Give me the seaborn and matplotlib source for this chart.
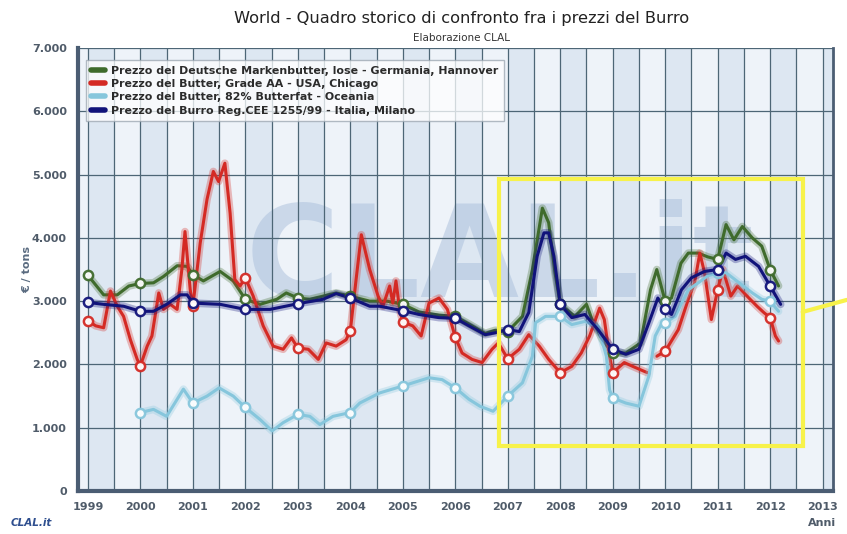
import numpy as np
import pandas as pd
import seaborn as sns
import matplotlib.pyplot as plt
import matplotlib.patheffects as pe
from matplotlib.lines import Line2D
from matplotlib.patches import Rectangle
from matplotlib.ticker import MultipleLocator, FuncFormatter

# Germania, Hannover (Deutsche Markenbutter, lose)
de_years = [1999.0, 1999.3, 1999.56, 1999.78, 2000.0, 2000.25, 2000.44, 2000.7, 2000.89,
            2001.0, 2001.2, 2001.52, 2001.77, 2002.0, 2002.28, 2002.6, 2002.78, 2003.0,
            2003.23, 2003.48, 2003.73, 2004.0, 2004.37, 2004.7, 2005.0, 2005.31, 2005.69,
            2006.0, 2006.26, 2006.57, 2006.76, 2007.0, 2007.28, 2007.47, 2007.66, 2007.78,
            2007.9, 2008.0, 2008.28, 2008.5, 2008.62, 2008.84, 2009.0, 2009.25, 2009.53,
            2009.72, 2009.84, 2010.0, 2010.12, 2010.3, 2010.44, 2010.63, 2010.81, 2011.0,
            2011.16, 2011.31, 2011.47, 2011.66, 2011.84, 2012.0, 2012.16]
de_price = [3410, 3100, 3100, 3240, 3280, 3290, 3390, 3560, 3550,
            3420, 3320, 3470, 3320, 3030, 2950, 3030, 3130, 3050,
            3030, 3080, 3130, 3080, 3000, 3000, 2950, 2830, 2780,
            2760, 2640, 2490, 2540, 2520, 2760, 3500, 4470, 4240,
            3450, 2950, 2760, 2950, 2680, 2340, 2180, 2180, 2340,
            3180, 3500, 3000, 3050, 3600, 3760, 3760, 3700, 3660,
            4210, 3970, 4180, 4000, 3870, 3500, 3240]

# USA, Chicago (Grade AA) - data missing in the last months of 2009
us_years = [1999.0, 1999.15, 1999.3, 1999.43, 1999.56, 1999.68, 1999.81, 1999.94, 2000.0,
            2000.13, 2000.22, 2000.35, 2000.44, 2000.57, 2000.7, 2000.79, 2000.85, 2000.95,
            2001.0, 2001.14, 2001.27, 2001.39, 2001.49, 2001.61, 2001.71, 2001.8, 2001.9,
            2002.0, 2002.15, 2002.34, 2002.53, 2002.72, 2002.88, 2003.0, 2003.2, 2003.39,
            2003.54, 2003.73, 2003.92, 2004.0, 2004.11, 2004.21, 2004.37, 2004.53, 2004.62,
            2004.75, 2004.81, 2004.87, 2004.94, 2005.0, 2005.19, 2005.35, 2005.5, 2005.69,
            2005.85, 2006.0, 2006.13, 2006.32, 2006.51, 2006.7, 2006.82, 2007.0, 2007.22,
            2007.4, 2007.6, 2007.78, 2008.0, 2008.22, 2008.4, 2008.56, 2008.75, 2008.84,
            2008.94, 2009.0, 2009.22, 2009.38, 2009.66,
            2009.84, 2010.0, 2010.25, 2010.44, 2010.56, 2010.66, 2010.75, 2010.88, 2011.0,
            2011.1, 2011.25, 2011.38, 2011.56, 2011.75, 2011.88, 2012.0, 2012.1, 2012.16]
us_price = [2690, 2610, 2580, 3160, 2920, 2760, 2390, 2080, 1980,
            2290, 2450, 3130, 2870, 2950, 2870, 3500, 4100, 3180,
            2920, 3920, 4610, 5050, 4890, 5180, 4390, 3340, 3240,
            3370, 3080, 2610, 2290, 2240, 2420, 2260, 2240, 2080,
            2340, 2290, 2390, 2530, 3340, 4050, 3500, 3080, 2920,
            3240, 2970, 3320, 2870, 2670, 2610, 2450, 2970, 3050,
            2870, 2430, 2180, 2080, 2030, 2240, 2340, 2090, 2240,
            2470, 2290, 2080, 1870, 1970, 2180, 2450, 2890, 2710,
            2130, 1870, 2030, 1970, 1870,
            2130, 2210, 2550, 3030, 3290, 3760, 3450, 2710, 3180,
            3500, 3080, 3240, 3080, 2920, 2820, 2740, 2450, 2370]
us_gap = 2009.75

# Oceania (82% Butterfat)
oc_years = [2000.0, 2000.25, 2000.5, 2000.82, 2001.0, 2001.27, 2001.5, 2001.77, 2002.0,
            2002.28, 2002.51, 2002.72, 2003.0, 2003.23, 2003.42, 2003.67, 2004.0, 2004.18,
            2004.56, 2005.0, 2005.5, 2005.75, 2006.0, 2006.26, 2006.47, 2006.72, 2007.0,
            2007.28, 2007.47, 2007.53, 2007.72, 2008.0, 2008.22, 2008.47, 2008.72, 2008.88,
            2008.94, 2009.0, 2009.25, 2009.5, 2009.69, 2009.81, 2009.94, 2010.0, 2010.19,
            2010.44, 2010.63, 2010.81, 2011.0, 2011.16, 2011.41, 2011.66, 2011.84, 2012.0,
            2012.16]
oc_price = [1240, 1290, 1180, 1610, 1390, 1500, 1630, 1500, 1320,
            1130, 950, 1080, 1210, 1180, 1050, 1180, 1240, 1390,
            1550, 1660, 1790, 1760, 1630, 1450, 1340, 1260, 1500,
            1710, 2130, 2660, 2760, 2760, 2630, 2680, 2600, 2130,
            1600, 1470, 1390, 1340, 1820, 2450, 2660, 2660, 2760,
            3180, 3290, 3400, 3450, 3450, 3290, 3130, 3030, 3000,
            2840]

# Italia, Milano (Reg.CEE 1255/99)
it_years = [1999.0, 1999.3, 1999.68, 2000.0, 2000.25, 2000.5, 2000.76, 2000.89, 2001.0,
            2001.52, 2002.0, 2002.47, 2003.0, 2003.48, 2003.73, 2004.0, 2004.37, 2004.56,
            2005.0, 2005.31, 2005.69, 2006.0, 2006.26, 2006.57, 2006.76, 2007.0, 2007.22,
            2007.4, 2007.56, 2007.69, 2007.78, 2007.88, 2008.0, 2008.22, 2008.47, 2008.72,
            2009.0, 2009.25, 2009.5, 2009.69, 2009.86, 2010.0, 2010.12, 2010.31, 2010.5,
            2010.75, 2011.0, 2011.16, 2011.34, 2011.53, 2011.78, 2012.0, 2012.2]
it_price = [2980, 2950, 2920, 2840, 2840, 2950, 3100, 3100, 2970,
            2950, 2870, 2870, 2960, 3030, 3120, 3050, 2920, 2920,
            2850, 2790, 2740, 2730, 2610, 2470, 2500, 2550, 2520,
            2820, 3710, 4080, 4080, 3710, 2950, 2740, 2790, 2550,
            2240, 2160, 2240, 2660, 3050, 2870, 2790, 3180, 3370,
            3470, 3500, 3760, 3660, 3710, 3550, 3240, 2950]

labels = ["Prezzo del Deutsche Markenbutter, lose - Germania, Hannover",
          "Prezzo del Butter, Grade AA - USA, Chicago",
          "Prezzo del Butter, 82% Butterfat - Oceania",
          "Prezzo del Burro Reg.CEE 1255/99 - Italia, Milano"]
colors = ["#3f6b2c", "#d42a24", "#86c6dc", "#11137a"]
year_ticks = list(range(1999, 2014))

frames = [
    pd.DataFrame({"anno": de_years, "prezzo": de_price, "serie": labels[0], "seg": 0}),
    pd.DataFrame({"anno": us_years, "prezzo": us_price, "serie": labels[1],
                  "seg": [int(y > us_gap) for y in us_years]}),
    pd.DataFrame({"anno": oc_years, "prezzo": oc_price, "serie": labels[2], "seg": 0}),
    pd.DataFrame({"anno": it_years, "prezzo": it_price, "serie": labels[3], "seg": 0}),
]
df = pd.concat(frames, ignore_index=True)

sns.set_theme(style="white")
plt.rcParams["font.family"] = ["DejaVu Sans"]

fig = plt.figure(figsize=(8.47, 5.34), dpi=100)
ax = fig.add_axes([0.092, 0.0805, 0.891, 0.8295])
ax.set_facecolor("#eef3f9")

# half-year column shading
for y0 in range(1998, 2014):
    ax.axvspan(y0, y0 + 0.5, color="#dde7f2", lw=0, zorder=0.1)

# faint watermark
ax.text(2006.85, 3620, "CLAL.it", fontsize=92, fontweight="bold", color="#a9bedb",
        alpha=0.5, ha="center", va="center", zorder=0.3)

# draw order: Oceania, USA, Germania, Italia
for i in [2, 1, 0, 3]:
    sub = df[df["serie"] == labels[i]]
    n_before = len(ax.lines)
    sns.lineplot(data=sub, x="anno", y="prezzo", units="seg", estimator=None, sort=False,
                 color=colors[i], lw=2.2, ax=ax, legend=False, zorder=3 + i * 0.1)
    for ln in ax.lines[n_before:]:
        ln.set_path_effects([pe.Stroke(linewidth=5.5, foreground=colors[i], alpha=0.3),
                             pe.Normal()])
    jan = sub[sub["anno"] % 1 == 0]
    ax.scatter(jan["anno"], jan["prezzo"], s=44, facecolor="white", edgecolor=colors[i],
               linewidth=1.8, zorder=4 + i * 0.1, alpha=0.95)

ax.set_xlim(1998.81, 2013.19)
ax.set_ylim(0, 7000)
ax.xaxis.set_minor_locator(MultipleLocator(0.5))
ax.yaxis.set_major_locator(MultipleLocator(1000))
ax.set_xticks(year_ticks)
ax.set_xticklabels([str(y) for y in year_ticks])
ax.yaxis.set_major_formatter(FuncFormatter(lambda v, p: f"{int(v):,}".replace(",", ".")))
ax.set_axisbelow(True)
ax.grid(which="both", axis="x", color="#4d6676", lw=0.9, zorder=0.5)
ax.grid(which="major", axis="y", color="#4d6676", lw=0.9, zorder=0.5)

ax.tick_params(axis="both", which="major", direction="out", length=5, width=1,
               color="#4b5d73", labelsize=8, labelcolor="#4f5b69", pad=3)
ax.tick_params(axis="x", which="minor", length=0)
for lab in ax.get_xticklabels() + ax.get_yticklabels():
    lab.set_fontweight("bold")

for side in ["left", "bottom"]:
    ax.spines[side].set_color("#4b5d73")
    ax.spines[side].set_linewidth(3)
ax.spines["right"].set_color("#4b5d73")
ax.spines["right"].set_linewidth(2)
ax.spines["top"].set_visible(False)

ax.set_xlabel("")
ax.set_ylabel("€ / tons", fontsize=8, fontweight="bold", color="#5a6b80")
ax.yaxis.set_label_coords(-0.06, 0.5)

# highlighted area
ax.add_patch(Rectangle((2006.83, 710), 5.79, 4220, fill=False, edgecolor="#f7f24a",
                       lw=3, zorder=6))
ax.plot([2012.62, 2013.46], [2830, 3020], color="#f7f24a", lw=3, clip_on=False, zorder=6)

handles = [Line2D([0], [0], color=c, lw=4) for c in colors]
leg = ax.legend(handles, labels, loc="upper left", bbox_to_anchor=(0.003, 0.985),
                prop={"size": 7.9, "weight": "bold"}, handlelength=1.3, handletextpad=0.5,
                labelspacing=0.3, borderpad=0.5, frameon=True, fancybox=False)
leg.get_frame().set_edgecolor("#9aa5b0")
leg.get_frame().set_facecolor("white")
leg.get_frame().set_alpha(0.75)
for t in leg.get_texts():
    t.set_color("#2b2b2b")
leg.set_zorder(7)

fig.text(0.545, 0.966, "World - Quadro storico di confronto fra i prezzi del Burro",
         ha="center", va="center", fontsize=11.7, color="#222222")
fig.text(0.545, 0.929, "Elaborazione CLAL", ha="center", va="center", fontsize=7.5,
         color="#333333")
fig.text(0.971, 0.021, "Anni", ha="center", va="center", fontsize=8, fontweight="bold",
         color="#4f5b69")
fig.text(0.012, 0.021, "CLAL.it", ha="left", va="center", fontsize=7.5, fontweight="bold",
         fontstyle="italic", color="#2f4f8f")

fig.savefig("out.png", dpi=100)
